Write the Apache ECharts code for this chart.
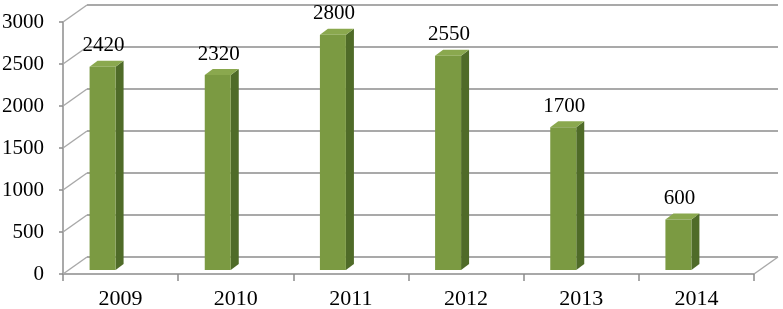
<!DOCTYPE html>
<html><head><meta charset="utf-8">
<script src="https://cdn.jsdelivr.net/npm/echarts@6/dist/echarts.min.js"></script>
<style>html,body{margin:0;padding:0;background:#fff}#c{width:783px;height:309px}</style>
</head><body><div id="c"></div>
<script>
const categories = ['2009','2010','2011','2012','2013','2014'];
const values = [2420, 2320, 2800, 2550, 1700, 600];
const yTicks = [0, 500, 1000, 1500, 2000, 2500, 3000];

const FONT = 'Liberation Serif';
const WALL_DX = 24, WALL_DY = -17;   // depth offset of back wall
const BAR_DY = -4;                   // bar front face depth
const BAR_D_X = 8, BAR_D_Y = -6;     // bar thickness in depth
const lineColor = '#A9A9A9';

const chart = echarts.init(document.getElementById('c'), null, {renderer: 'canvas'});
chart.setOption({
  animation: false,
  grid: {left: 63, right: 29, top: 22, bottom: 35, containLabel: false, outerBoundsMode: 'none'},
  xAxis: {
    type: 'category', data: categories, boundaryGap: true,
    axisLine: {show: true, lineStyle: {color: '#8C8C8C', width: 1.5}},
    axisTick: {show: true, interval: 0, length: 7, lineStyle: {color: '#8C8C8C', width: 1.5}},
    axisLabel: {fontFamily: FONT, fontSize: 22, color: '#000', margin: 14, interval: 0},
    splitLine: {show: false}
  },
  yAxis: {
    type: 'value', min: 0, max: 3000, interval: 500,
    axisLine: {show: true, lineStyle: {color: '#8C8C8C', width: 1.5}},
    axisTick: {show: true, length: 4, lineStyle: {color: '#8C8C8C', width: 1.5}},
    axisLabel: {fontFamily: FONT, fontSize: 21, color: '#000', margin: 19, formatter: v => String(v)},
    splitLine: {show: false}
  },
  series: [
    {
      type: 'custom', z: 1, silent: true,
      data: yTicks.map(v => [0, v]),
      renderItem: function (params, api) {
        const cs = params.coordSys;
        const v = api.value(1);
        const y = api.coord([0, v])[1];
        const x0 = cs.x, x1 = cs.x + cs.width;
        const children = [
          {type: 'line', shape: {x1: x0 + WALL_DX, y1: y + WALL_DY, x2: x1 + WALL_DX, y2: y + WALL_DY},
           style: {stroke: lineColor, lineWidth: 2}},
          {type: 'line', shape: {x1: x0, y1: y, x2: x0 + WALL_DX, y2: y + WALL_DY},
           style: {stroke: lineColor, lineWidth: 1.5}}
        ];
        if (v === 0) {
          children.push({type: 'line', shape: {x1: x1, y1: y, x2: x1 + WALL_DX, y2: y + WALL_DY},
            style: {stroke: lineColor, lineWidth: 1.5}});
        }
        return {type: 'group', children: children};
      }
    },
    {
      type: 'custom', z: 5,
      data: values.map((v, i) => [i, v]),
      renderItem: function (params, api) {
        const i = api.value(0), v = api.value(1);
        const base = api.coord([i, 0]);
        const top = api.coord([i, v]);
        const cx = base[0];
        const fx0 = cx - 31, fx1 = cx - 5;
        const yb = base[1] + BAR_DY, yt = top[1] + BAR_DY;
        return {type: 'group', children: [
          {type: 'polygon', shape: {points: [[fx1, yb], [fx1 + BAR_D_X, yb + BAR_D_Y], [fx1 + BAR_D_X, yt + BAR_D_Y], [fx1, yt]]},
           style: {fill: '#4F6B28'}},
          {type: 'polygon', shape: {points: [[fx0, yt], [fx0 + BAR_D_X, yt + BAR_D_Y], [fx1 + BAR_D_X, yt + BAR_D_Y], [fx1, yt]]},
           style: {fill: '#8AA84E'}},
          {type: 'rect', shape: {x: fx0, y: yt, width: fx1 - fx0, height: yb - yt},
           style: {fill: '#7B9A42'}},
          {type: 'text', x: (fx0 + fx1) / 2 + 1, y: yt - 21,
           style: {text: String(v), fontFamily: FONT, fontSize: 21, fill: '#000', align: 'center', verticalAlign: 'middle'}}
        ]};
      }
    }
  ]
});
</script>
</body></html>
